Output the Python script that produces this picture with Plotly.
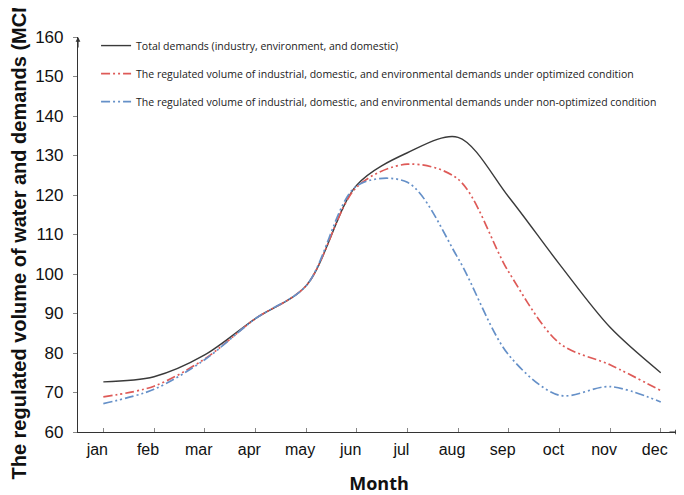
import plotly.graph_objects as go

months = ["jan", "feb", "mar", "apr", "may", "jun", "jul", "aug", "sep", "oct", "nov", "dec"]
total_demands = [72.7, 74.0, 79.5, 88.7, 97.0, 122.5, 130.7, 134.6, 119.5, 102.5, 86.5, 75.0]
optimized = [68.9, 71.6, 78.5, 88.7, 97.0, 122.0, 127.8, 124.0, 100.5, 82.5, 77.0, 70.5]
non_optimized = [67.2, 70.8, 78.3, 88.7, 97.0, 122.3, 123.2, 104.0, 79.5, 69.3, 71.5, 67.6]
y_ticks = [60, 70, 80, 90, 100, 110, 120, 130, 140, 150, 160]

names = [
    "Total demands (industry, environment, and domestic)",
    "The regulated volume of industrial, domestic, and environmental demands under optimized condition",
    "The regulated volume of industrial, domestic, and environmental demands under non-optimized condition",
]

x = list(range(len(months)))
fig = go.Figure()
fig.add_trace(go.Scatter(x=x, y=total_demands, mode="lines", name=names[0], legendgroup="a",
                         line=dict(color="#3a3a3a", width=1.4, shape="spline", smoothing=0.9)))
fig.add_trace(go.Scatter(x=x, y=optimized, mode="lines", name=names[1], legendgroup="b",
                         line=dict(color="#de5a57", width=1.7, shape="spline", smoothing=0.9,
                                   dash="9px,3px,2px,3px,2px,3px")))
fig.add_trace(go.Scatter(x=x, y=non_optimized, mode="lines", name=names[2], legendgroup="c",
                         line=dict(color="#6590c8", width=1.7, shape="spline", smoothing=0.9,
                                   dash="9px,3px,2px,3px,2px,3px")))

fig.update_layout(
    width=676, height=487,
    margin=dict(l=70, r=4, t=29, b=63),
    paper_bgcolor="white", plot_bgcolor="white",
    font=dict(family="Liberation Sans, Arial, sans-serif", color="#111"),
    showlegend=True,
    legend=dict(x=0.03, y=1.015, xanchor="left", yanchor="top",
                bgcolor="rgba(0,0,0,0)", font=dict(family="Open Sans, sans-serif", size=10.5, color="#222"),
                tracegroupgap=9, itemwidth=30, traceorder="grouped"),
)
fig.update_xaxes(
    range=[-0.5, 11.38], tickmode="array", tickvals=x, ticktext=months,
    showline=True, linecolor="#333", linewidth=1.2, showgrid=False, zeroline=False,
    ticks="inside", ticklen=4, tickcolor="#888", automargin=False,
    tickfont=dict(size=16, color="#111"), ticklabelshift=-6, ticklabelstandoff=3,
    title=dict(text="<b>Month</b>", font=dict(size=18, family="Open Sans, sans-serif", color="#111"), standoff=20),
)
fig.update_yaxes(
    range=[60, 160], tickmode="array", tickvals=y_ticks,
    showline=True, linecolor="#333", linewidth=1.2, showgrid=False, zeroline=False,
    ticks="outside", ticklen=4, tickcolor="#888", automargin=False,
    tickfont=dict(size=17, color="#111"), ticklabelstandoff=6,
    title=dict(text="<b>The regulated volume of water and demands (MCM)</b>",
               font=dict(size=20, family="Liberation Sans, Arial, sans-serif", color="#111"), standoff=4),
)

# axis arrows
fig.add_annotation(x=0, y=1.0, xref="paper", yref="paper", ax=0, ay=12, axref="pixel", ayref="pixel",
                   showarrow=True, arrowhead=2, arrowsize=0.8, arrowwidth=1.2, arrowcolor="#333", text="")
fig.add_annotation(x=1.0, y=0, xref="paper", yref="paper", ax=-12, ay=0, axref="pixel", ayref="pixel",
                   showarrow=True, arrowhead=2, arrowsize=0.8, arrowwidth=1.2, arrowcolor="#333", text="")

fig.write_html("out.html")
